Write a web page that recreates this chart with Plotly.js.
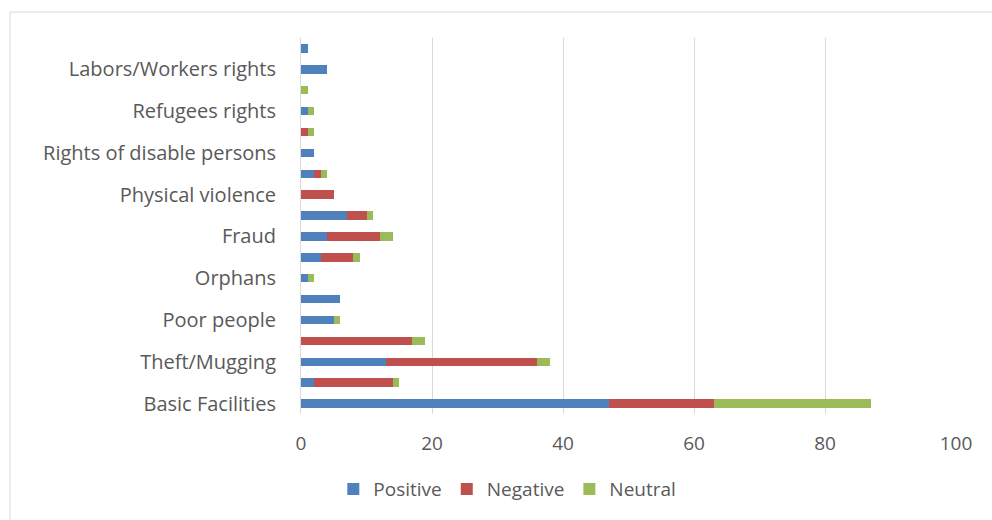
<!DOCTYPE html>
<html>
<head>
<meta charset="utf-8">
<script src="https://cdn.plot.ly/plotly-3.0.1.min.js"></script>
<style>
  html, body { margin: 0; padding: 0; background: #ffffff; }
  #chart { width: 992px; height: 520px; }
</style>
</head>
<body>
<div id="chart"></div>
<script>
// Row labels from bottom to top; every other row carries no visible label
const rowLabels = [
  'Basic Facilities', '', 'Theft/Mugging', '', 'Poor people', '',
  'Orphans', '', 'Fraud', '', 'Physical violence', '',
  'Rights of disable persons', '', 'Refugees rights', '',
  'Labors/Workers rights', ''
];

// Counts per row (same order as rowLabels)
const positive = [47, 2, 13, 0, 5, 6, 1, 3, 4, 7, 0, 2, 2, 0, 1, 0, 4, 1];
const negative = [16, 12, 23, 17, 0, 0, 0, 5, 8, 3, 5, 1, 0, 1, 0, 0, 0, 0];
const neutral  = [24, 1, 2, 2, 1, 0, 1, 1, 2, 1, 0, 1, 0, 1, 1, 1, 0, 0];

const seriesNames = ['Positive', 'Negative', 'Neutral'];
const seriesColors = ['#4F81BD', '#C0504D', '#9BBB59'];
const xTicks = [0, 20, 40, 60, 80, 100];

const rowIndex = rowLabels.map((_, i) => i);

const traces = [positive, negative, neutral].map((vals, k) => ({
  type: 'bar',
  orientation: 'h',
  name: seriesNames[k],
  x: vals,
  y: rowIndex,
  marker: { color: seriesColors[k], line: { width: 0 } },
  hoverinfo: 'x+name'
}));

const fontFamily = 'Open Sans, Noto Sans, sans-serif';
const textColor = '#595959';

const layout = {
  width: 992,
  height: 520,
  barmode: 'stack',
  bargap: 0.6,
  paper_bgcolor: '#ffffff',
  plot_bgcolor: '#ffffff',
  margin: { l: 301, r: 36, t: 38, b: 106 },
  font: { family: fontFamily, color: textColor, size: 18 },
  xaxis: {
    range: [0, 100],
    tickvals: xTicks,
    ticktext: xTicks.map(String),
    showgrid: true,
    gridcolor: '#D9D9D9',
    gridwidth: 1,
    zeroline: false,
    showline: false,
    ticks: 'outside',
    ticklen: 12,
    tickcolor: 'rgba(0,0,0,0)',
    tickfont: { size: 19, color: textColor, family: fontFamily },
    fixedrange: true
  },
  yaxis: {
    range: [-0.5, 17.5],
    tickvals: rowIndex,
    ticktext: rowLabels,
    showgrid: false,
    zeroline: false,
    showline: true,
    linecolor: '#D9D9D9',
    linewidth: 1,
    ticks: 'outside',
    ticklen: 20,
    tickcolor: 'rgba(0,0,0,0)',
    tickfont: { size: 20, color: textColor, family: fontFamily },
    fixedrange: true
  },
  showlegend: true,
  legend: {
    orientation: 'h',
    x: 0.315,
    xanchor: 'center',
    y: -0.2,
    yanchor: 'middle',
    font: { size: 19, color: textColor, family: fontFamily },
    traceorder: 'normal',
    itemwidth: 30
  },
  shapes: [{
    type: 'rect',
    xref: 'paper', yref: 'paper',
    x0: -0.4443, x1: 1.2,
    y0: -0.4, y1: 1.0691,
    line: { color: '#D9D9D9', width: 1 },
    fillcolor: 'rgba(0,0,0,0)',
    layer: 'below'
  }]
};

Plotly.newPlot('chart', traces, layout, { displayModeBar: false, staticPlot: true });
</script>
</body>
</html>
